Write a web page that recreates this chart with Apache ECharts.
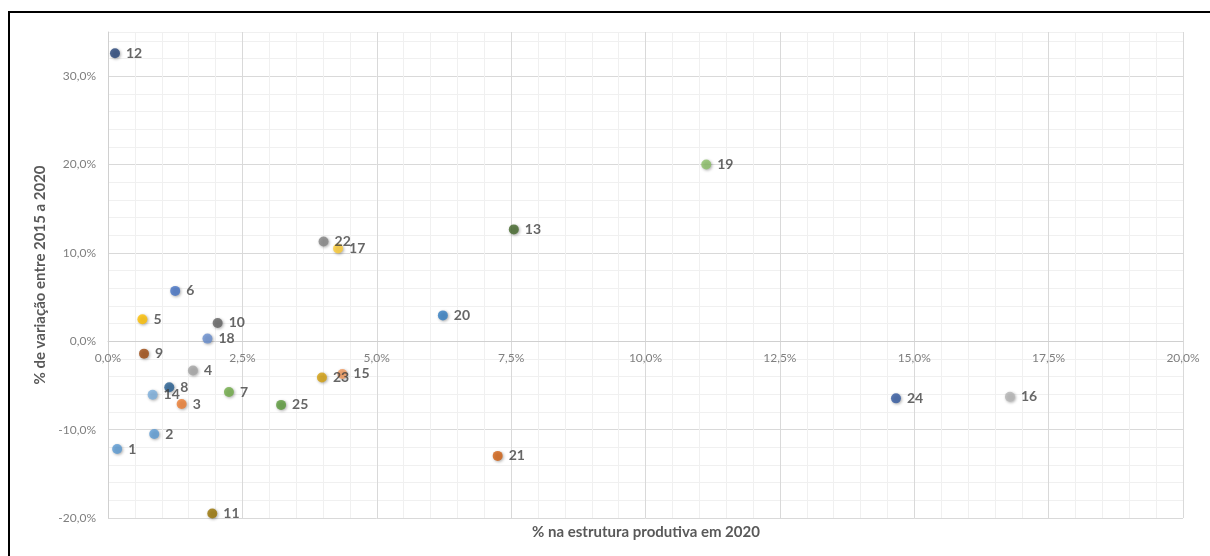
<!DOCTYPE html>
<html>
<head>
<meta charset="utf-8">
<style>
html,body{margin:0;padding:0;background:#fff;}
#chart{width:1210px;height:556px;}
</style>
<script src="https://cdn.jsdelivr.net/npm/echarts@6/dist/echarts.min.js"></script>
</head>
<body>
<div id="chart"></div>
<script>
// Data (x = % na estrutura produtiva em 2020, y = % de variação entre 2015 a 2020)
const pointLabels = ['1','2','3','4','5','6','7','8','9','10','11','12','13','14','15','16','17','18','19','20','21','22','23','24','25'];
const xValues = [0.17, 0.86, 1.37, 1.58, 0.64, 1.25, 2.25, 1.14, 0.67, 2.04, 1.94, 0.13, 7.55, 0.83, 4.36, 16.78, 4.28, 1.85, 11.13, 6.23, 7.25, 4.01, 3.98, 14.66, 3.22];
const yValues = [-12.2, -10.5, -7.1, -3.3, 2.5, 5.7, -5.75, -5.2, -1.4, 2.07, -19.5, 32.6, 12.66, -6.05, -3.7, -6.28, 10.5, 0.3, 20.0, 2.93, -12.97, 11.3, -4.1, -6.46, -7.2];
const pointColors = ['#5b9bd5','#5b9bd5','#ed7d31','#a5a5a5','#ffc000','#4472c4','#70ad47','#255e91','#9e480e','#636363','#997300','#264478','#43682b','#7cafdd','#f1975a','#b7b7b7','#ffcd33','#698ed0','#8cc168','#327dc2','#d26012','#848484','#d4a00c','#335aa1','#5a9a3a'];
const xTickMajor = 2.5;
const yTickMajor = 10;
const xTitle = '% na estrutura produtiva em 2020';
const yTitle = '% de variação entre 2015 a 2020';

const fmt = v => v.toFixed(1).replace('.', ',') + '%';
const isMult = (v, m) => Math.abs(v / m - Math.round(v / m)) < 1e-6;

const data = pointLabels.map((n, i) => ({
  name: n,
  value: [xValues[i], yValues[i]],
  itemStyle: { color: pointColors[i] }
}));

const GRID = { left: 108, right: 27, top: 32, bottom: 38 };
const Y_MIN = -20, Y_MAX = 35;
const plotH = 556 - GRID.top - GRID.bottom;
// shift the x axis (line + labels) up so it sits on y = 0
const xAxisOffset = -plotH * (0 - Y_MIN) / (Y_MAX - Y_MIN);

const majorC = '#d9d9d9', minorC = '#f0f0f0';
const FONT = 'Lato, "Open Sans", sans-serif';
const chart = echarts.init(document.getElementById('chart'));
chart.setOption({
  animation: false,
  textStyle: { fontFamily: FONT },
  grid: Object.assign({ containLabel: false }, GRID),
  graphic: [{
    type: 'rect', silent: true,
    shape: { x: 9, y: 12, width: 1400, height: 700 },
    style: { fill: 'none', stroke: '#000', lineWidth: 2 }
  }, {
    type: 'text', silent: true, x: 646, y: 532,
    style: { text: xTitle, align: 'center', verticalAlign: 'middle',
      font: 'bold 15px ' + FONT, fill: '#595959' }
  }],
  xAxis: {
    type: 'value', min: 0, max: 20, interval: 0.5,
    position: 'bottom', offset: xAxisOffset,
    axisLine: { onZero: false, lineStyle: { color: '#d0d0d0', width: 1 } },
    axisTick: { show: false },
    axisLabel: {
      margin: 11, fontSize: 12, color: '#7f7f7f',
      formatter: v => isMult(v, xTickMajor) ? fmt(v) : ''
    },
    splitLine: { show: true, lineStyle: { color: [majorC, minorC, minorC, minorC, minorC], width: 1 } }
  },
  yAxis: {
    type: 'value', min: Y_MIN, max: Y_MAX, interval: 2,
    axisLine: { show: true, onZero: false, lineStyle: { color: '#d0d0d0', width: 1 } },
    axisTick: { show: false },
    axisLabel: {
      margin: 12, fontSize: 12, color: '#7f7f7f',
      formatter: v => isMult(v, yTickMajor) ? fmt(v) : ''
    },
    splitLine: { show: true, lineStyle: { color: [majorC, minorC, minorC, minorC, minorC], width: 1 } },
    name: yTitle, nameLocation: 'middle', nameGap: 57,
    nameTextStyle: { fontSize: 15, fontWeight: 'bold', color: '#595959' }
  },
  series: [{
    type: 'scatter',
    symbol: 'circle',
    symbolSize: 10,
    data: data,
    itemStyle: { shadowBlur: 3, shadowColor: 'rgba(0,0,0,0.4)', shadowOffsetX: 1, shadowOffsetY: 1 },
    label: {
      show: true, position: 'right', distance: 6, formatter: '{b}',
      fontSize: 14, fontWeight: 'bold', color: '#404040'
    }
  }]
});
</script>
</body>
</html>
